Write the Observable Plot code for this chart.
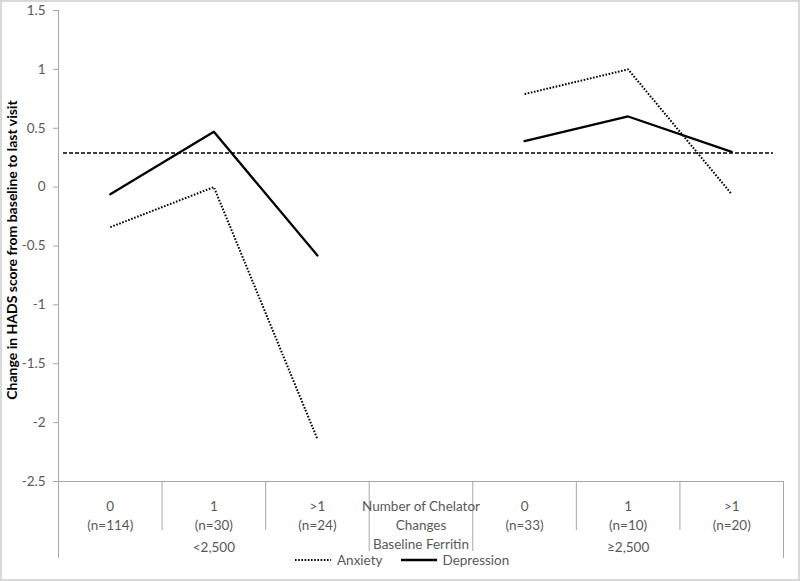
<!DOCTYPE html>
<html>
<head>
<meta charset="utf-8">
<script src="https://cdn.jsdelivr.net/npm/d3@7"></script>
<script src="https://cdn.jsdelivr.net/npm/@observablehq/plot@0.6"></script>
<style>
  body { margin: 0; background: #fff; font-family: Lato, sans-serif; }
  #wrap { position: relative; width: 800px; height: 581px; }
  #frame { position: absolute; left: 0; top: 0; width: 800px; height: 581px; box-sizing: border-box; border: 2px solid #d9d9d9; pointer-events: none; }
  #legend { position: absolute; top: 552px; left: 295px; height: 16px; font-size: 13.5px; line-height: 16px; color: #595959; display: flex; align-items: center; white-space: nowrap; }
  #legend svg { display: block; }
</style>
</head>
<body>
<div id="wrap">
  <div id="chart"></div>
  <div id="legend"></div>
  <div id="frame"></div>
</div>
<script>
// ---- data ----
const categories = ["0", "1", ">1", "Number of Chelator", "0", "1", ">1"];
const subLabels = ["(n=114)", "(n=30)", "(n=24)", "Changes", "(n=33)", "(n=10)", "(n=20)"];
const groupLabels = ["<2,500", "Baseline Ferritin", "≥2,500"];
const groupSpans = [[0, 3], [3, 4], [4, 7]];
const lowIdx = [0, 1, 2];
const highIdx = [4, 5, 6];
const anxietyLow = [-0.34, 0.00, -2.14];
const depressionLow = [-0.06, 0.47, -0.58];
const anxietyHigh = [0.79, 1.00, -0.06];
const depressionHigh = [0.39, 0.60, 0.30];
const referenceLine = [0.29];
const yTicks = [-2.5, -2, -1.5, -1, -0.5, 0, 0.5, 1, 1.5];
const seriesNames = ["Anxiety", "Depression"];

// ---- build tables ----
const rows = [];
function addSeries(series, group, idx, vals) {
  idx.forEach((k, i) => rows.push({series, group, pos: k + 0.5, value: vals[i]}));
}
addSeries("Anxiety", "low", lowIdx, anxietyLow);
addSeries("Depression", "low", lowIdx, depressionLow);
addSeries("Anxiety", "high", highIdx, anxietyHigh);
addSeries("Depression", "high", highIdx, depressionHigh);

const catRows = categories.map((c, i) => ({pos: i + 0.5, label: c + "\n" + subLabels[i]}));
const groupRows = groupLabels.map((g, i) => ({pos: (groupSpans[i][0] + groupSpans[i][1]) / 2, label: g, outer: i !== 1}));
const outerBounds = Array.from(new Set(groupSpans.flat())).filter(b => b !== 0 && b !== categories.length);
const innerBounds = d3.range(1, categories.length).filter(b => !outerBounds.includes(b));

const axisGray = "#a6a6a6";
const textGray = "#595959";
const W = 800, H = 581, ML = 58, MR = 17, MT = 10, MB = 100;
const plotW = W - ML - MR, plotH = H - MT - MB;

const chart = Plot.plot({
  width: W,
  height: H,
  marginLeft: ML,
  marginRight: MR,
  marginTop: MT,
  marginBottom: MB,
  style: {fontFamily: "Lato, sans-serif", fontSize: "13.5px", background: "transparent"},
  x: {type: "linear", domain: [0, categories.length], axis: null},
  y: {type: "linear", domain: [yTicks[0], yTicks[yTicks.length - 1]], axis: null},
  marks: [
    // y tick marks (short, left of the axis line)
    Plot.ruleY(yTicks, {stroke: axisGray, insetLeft: -5, insetRight: plotW}),
    // y tick labels
    Plot.text(yTicks, {y: d => d, text: d => String(d), frameAnchor: "left", textAnchor: "end", dx: -13, fill: textGray, fontSize: 13.5}),
    // y axis line, extended down through the category table
    Plot.ruleX([0], {stroke: axisGray, insetBottom: -77}),
    // horizontal axis line
    Plot.ruleY([yTicks[0]], {stroke: axisGray, insetLeft: -5}),
    // category table dividers
    Plot.ruleX(innerBounds, {stroke: axisGray, insetTop: plotH, insetBottom: -49}),
    Plot.ruleX(outerBounds, {stroke: axisGray, insetTop: plotH, insetBottom: -70}),
    Plot.ruleX([categories.length], {stroke: axisGray, insetTop: plotH, insetBottom: -77}),
    // dashed reference line
    Plot.ruleY(referenceLine, {stroke: "#000", strokeWidth: 1.4, strokeDasharray: "4,2", insetLeft: 5, insetRight: 10}),
    // series lines
    Plot.line(rows.filter(d => d.series === "Anxiety"), {x: "pos", y: "value", z: "group", stroke: "#000", strokeWidth: 2, strokeDasharray: "1.6,1.6", strokeLinecap: "butt"}),
    Plot.line(rows.filter(d => d.series === "Depression"), {x: "pos", y: "value", z: "group", stroke: "#000", strokeWidth: 2.3}),
    // category labels
    Plot.text(catRows, {x: "pos", text: "label", frameAnchor: "bottom", lineAnchor: "top", dy: 16, lineHeight: 1.4, fill: textGray, fontSize: 13.5}),
    Plot.text(groupRows.filter(d => d.outer), {x: "pos", text: "label", frameAnchor: "bottom", lineAnchor: "middle", dy: 66, fill: textGray, fontSize: 13.5}),
    Plot.text(groupRows.filter(d => !d.outer), {x: "pos", text: "label", frameAnchor: "bottom", lineAnchor: "middle", dy: 63, fill: textGray, fontSize: 13.5}),
    // y label
    Plot.text(["Change in HADS score from baseline to last visit"], {frameAnchor: "left", rotate: -90, dx: -46, dy: 4, fontWeight: "bold", fill: "#000", fontSize: 14, textAnchor: "middle"})
  ]
});
document.getElementById("chart").appendChild(chart);

// legend
const legend = d3.select("#legend");
seriesNames.forEach((name, i) => {
  const item = legend.append("div").style("display", "flex").style("align-items", "center").style("margin-right", i === 0 ? "18px" : "0");
  const s = item.append("svg").attr("width", 38).attr("height", 10);
  s.append("line").attr("x1", 0).attr("x2", 36).attr("y1", 5).attr("y2", 5)
    .attr("stroke", "#000").attr("stroke-width", name === "Anxiety" ? 2 : 2.3)
    .attr("stroke-dasharray", name === "Anxiety" ? "1.6,1.6" : null);
  item.append("span").text(name).style("margin-left", "4px");
});
</script>
</body>
</html>
